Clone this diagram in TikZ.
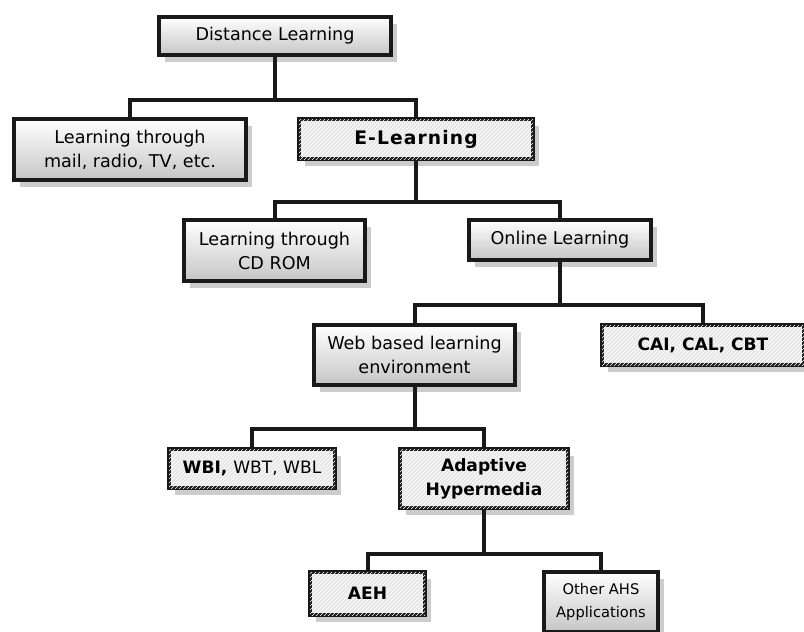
\documentclass[tikz,border=0pt]{standalone}
\usepackage{fontspec}
\setmainfont{DejaVu Sans}
\usetikzlibrary{shadows}
\usetikzlibrary{patterns}
\tikzstyle{box}=[draw=black!90, line width=3pt, inner sep=0pt, align=center, font=\fontsize{13.2}{18}\selectfont, drop shadow={shadow xshift=4.5pt, shadow yshift=-5.5pt, fill=gray!40, opacity=1}]
\tikzstyle{plain}=[top color=white, bottom color=gray!45]
\tikzstyle{hatched}=[fill=gray!18, postaction={pattern=north east lines, pattern color=white}, font=\fontsize{12.8}{18}\selectfont\bfseries]
\tikzstyle{link}=[draw=black!90, line width=3pt]

\begin{document}
\begin{tikzpicture}[x=0.75pt, y=-0.75pt]
    \path[use as bounding box, clip] (0,0) rectangle (804,632);

    \node[box, plain,   minimum width=174pt,   minimum height=28.5pt]  (dist)   at (275,36)      {Distance Learning};
    \node[box, plain,   minimum width=174pt,   minimum height=45.75pt] (mail)   at (130,149.5)   {Learning through\\mail, radio, TV, etc.};
    \node[box, hatched, minimum width=175.5pt, minimum height=30pt]    (elearn) at (416,139)     {\fontsize{14}{18}\selectfont\addfontfeature{LetterSpace=6}E-Learning};
    \node[box, plain,   minimum width=135.75pt,minimum height=45.75pt] (cdrom)  at (274.5,250.5) {Learning through\\CD ROM};
    \node[box, plain,   minimum width=136.5pt, minimum height=30pt]    (online) at (560,240)     {Online Learning};
    \node[box, plain,   minimum width=150.75pt,minimum height=45pt]    (web)    at (414.5,355)   {Web based learning\\environment};
    \node[box, hatched, minimum width=151.5pt, minimum height=30pt]    (cai)    at (703,345)     {CAI, CAL, CBT};
    \node[box, hatched, minimum width=124.5pt, minimum height=29.25pt] (wbi)    at (252,468.5)   {WBI, \mdseries WBT, WBL};
    \node[box, hatched, minimum width=126pt,   minimum height=44.25pt] (adapt)  at (484,478.5)   {Adaptive\\Hypermedia};
    \node[box, hatched, minimum width=86.25pt, minimum height=32.25pt] (aeh)    at (367.5,593.5) {AEH};
    \node[box, plain,   minimum width=85.5pt,  minimum height=45pt, font=\fontsize{11}{17}\selectfont] (other) at (601,602) {Other AHS\\Applications};

    \draw[link] (dist.south)   -- ++(0,43) -| (mail.north);
    \draw[link] (dist.south)   -- ++(0,43) -| (elearn.north);
    \draw[link] (elearn.south) -- ++(0,41) -| (cdrom.north);
    \draw[link] (elearn.south) -- ++(0,41) -| (online.north);
    \draw[link] (online.south) -- ++(0,43) -| (web.north);
    \draw[link] (online.south) -- ++(0,43) -| (cai.north);
    \draw[link] (web.south)    -- ++(0,42) -| (wbi.north);
    \draw[link] (web.south)    -- ++(0,42) -| (adapt.north);
    \draw[link] (adapt.south)  -- ++(0,44) -| (aeh.north);
    \draw[link] (adapt.south)  -- ++(0,44) -| (other.north);
\end{tikzpicture}
\end{document}
